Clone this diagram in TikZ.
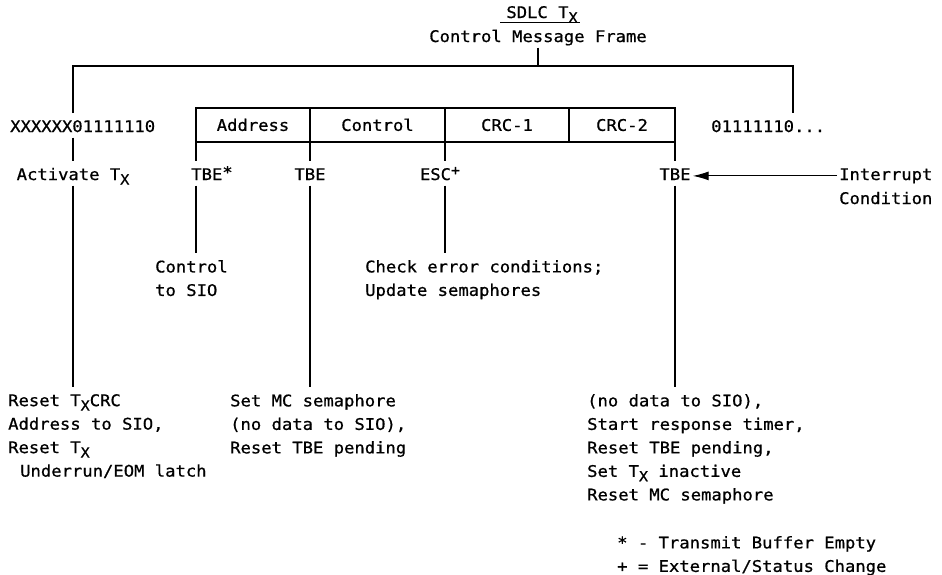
\documentclass[tikz,border=0pt]{standalone}
\usepackage{fontspec}
\setmainfont[FakeStretch=1.075, FakeBold=0.8]{DejaVu Sans Mono}
\usetikzlibrary{arrows.meta}

\newcommand{\subX}{\raisebox{-4.5pt}{\fontsize{14}{14}\selectfont X}}
\newcommand{\supStar}{\raisebox{2pt}{*}}
\newcommand{\supPlus}{\raisebox{5pt}{\fontsize{14}{14}\selectfont +}}

\tikzstyle{cell} = [draw, line width=1.1pt, minimum height=34pt, inner sep=0pt, outer sep=0pt, anchor=west, text height=11.7pt, text depth=0pt]
\tikzstyle{lbl} = [inner sep=2pt, anchor=base, text height=11.7pt, text depth=3.5pt]
\tikzstyle{note} = [inner sep=2pt, anchor=north west, align=left]
\tikzstyle{wire} = [line width=1.1pt]
\tikzstyle{drop} = [line width=1.1pt, shorten >=5pt]

\begin{document}
\begin{tikzpicture}[x=1pt, y=-1pt, font=\fontsize{16}{23.5}\selectfont]
		\useasboundingbox (0,0) rectangle (942,574);

		% title
		\node [inner sep=0pt, anchor=base] at (542, 18) (title) {SDLC T\subX};
		\node [lbl] at (538, 42) (msg) {Control Message Frame};
		\draw [wire] ([xshift=-6pt]title.south west) -- ([xshift=2pt]title.south east);

		% frame
		\node [lbl, anchor=base west] at (8, 132) (flagL) {XXXXXX01111110};
		\node [lbl, anchor=base west] at (709, 132) (flagR) {01111110...};
		\node [cell, minimum width=114pt] at (196, 125) (addr) {Address};
		\node [cell, minimum width=135pt] at (310, 125) (ctrl) {Control};
		\node [cell, minimum width=124pt] at (445, 125) (crc1) {CRC-1};
		\node [cell, minimum width=106pt] at (569, 125) (crc2) {CRC-2};

		\coordinate (brL) at (73, 66);
		\coordinate (brR) at (793, 66);
		\draw [wire, shorten <=5pt, shorten >=5pt] (flagL.north -| brL) -- (brL) -- (brR) -- (flagR.north -| brR);
		\draw [wire] (msg.south) -- (msg.south |- brL);

		% events
		\node [lbl] at (73, 180) (actv) {Activate T\subX};
		\node [lbl] at (212, 180) (tbeA) {TBE\supStar};
		\node [lbl] at (310, 180) (tbeB) {TBE};
		\node [lbl] at (440, 180) (esc) {ESC\supPlus};
		\node [lbl] at (675, 180) (tbeC) {TBE};
		\node [lbl, anchor=base west] at (837, 180) (intr) {Interrupt};
		\node [lbl, anchor=base west] at (837, 204) (cond) {Condition};

		% actions
		\node [note] at (153, 258) (ctlsio) {Control\\to SIO};
		\node [note] at (363, 258) (chk) {Check error conditions;\\Update semaphores};
		\node [note] at (6, 392) (resetL) {Reset T\subX CRC\\Address to SIO,\\Reset T\subX\\\hspace*{12pt}Underrun/EOM latch};
		\node [note] at (228, 392) (setmc) {Set MC semaphore\\(no data to SIO),\\Reset TBE pending};
		\node [note] at (585, 392) (nodata) {(no data to SIO),\\Start response timer,\\Reset TBE pending,\\Set T\subX{} inactive\\Reset MC semaphore};
		\node [note] at (615, 534) (legend) {* - Transmit Buffer Empty\\+ = External/Status Change};

		\draw [drop] (flagL.south -| actv) -- (actv.north);
		\draw [drop] (actv.south) -- (actv.south |- resetL.north);
		\draw [drop] (addr.south west) -- (addr.south west |- tbeA.north);
		\draw [drop] (tbeA.south -| addr.west) -- (ctlsio.north -| addr.west);
		\draw [drop] (ctrl.south west) -- (tbeB.north);
		\draw [drop] (tbeB.south) -- (tbeB.south |- setmc.north);
		\draw [drop] (crc1.south west) -- (crc1.south west |- esc.north);
		\draw [drop] (esc.south -| crc1.west) -- (chk.north -| crc1.west);
		\draw [drop] (crc2.south east) -- (tbeC.north);
		\draw [drop] (tbeC.south) -- (tbeC.south |- nodata.north);
		\draw [wire, -{Latex[length=16pt, width=9pt]}] (intr.west) -- (tbeC.east);
	\end{tikzpicture}
\end{document}
